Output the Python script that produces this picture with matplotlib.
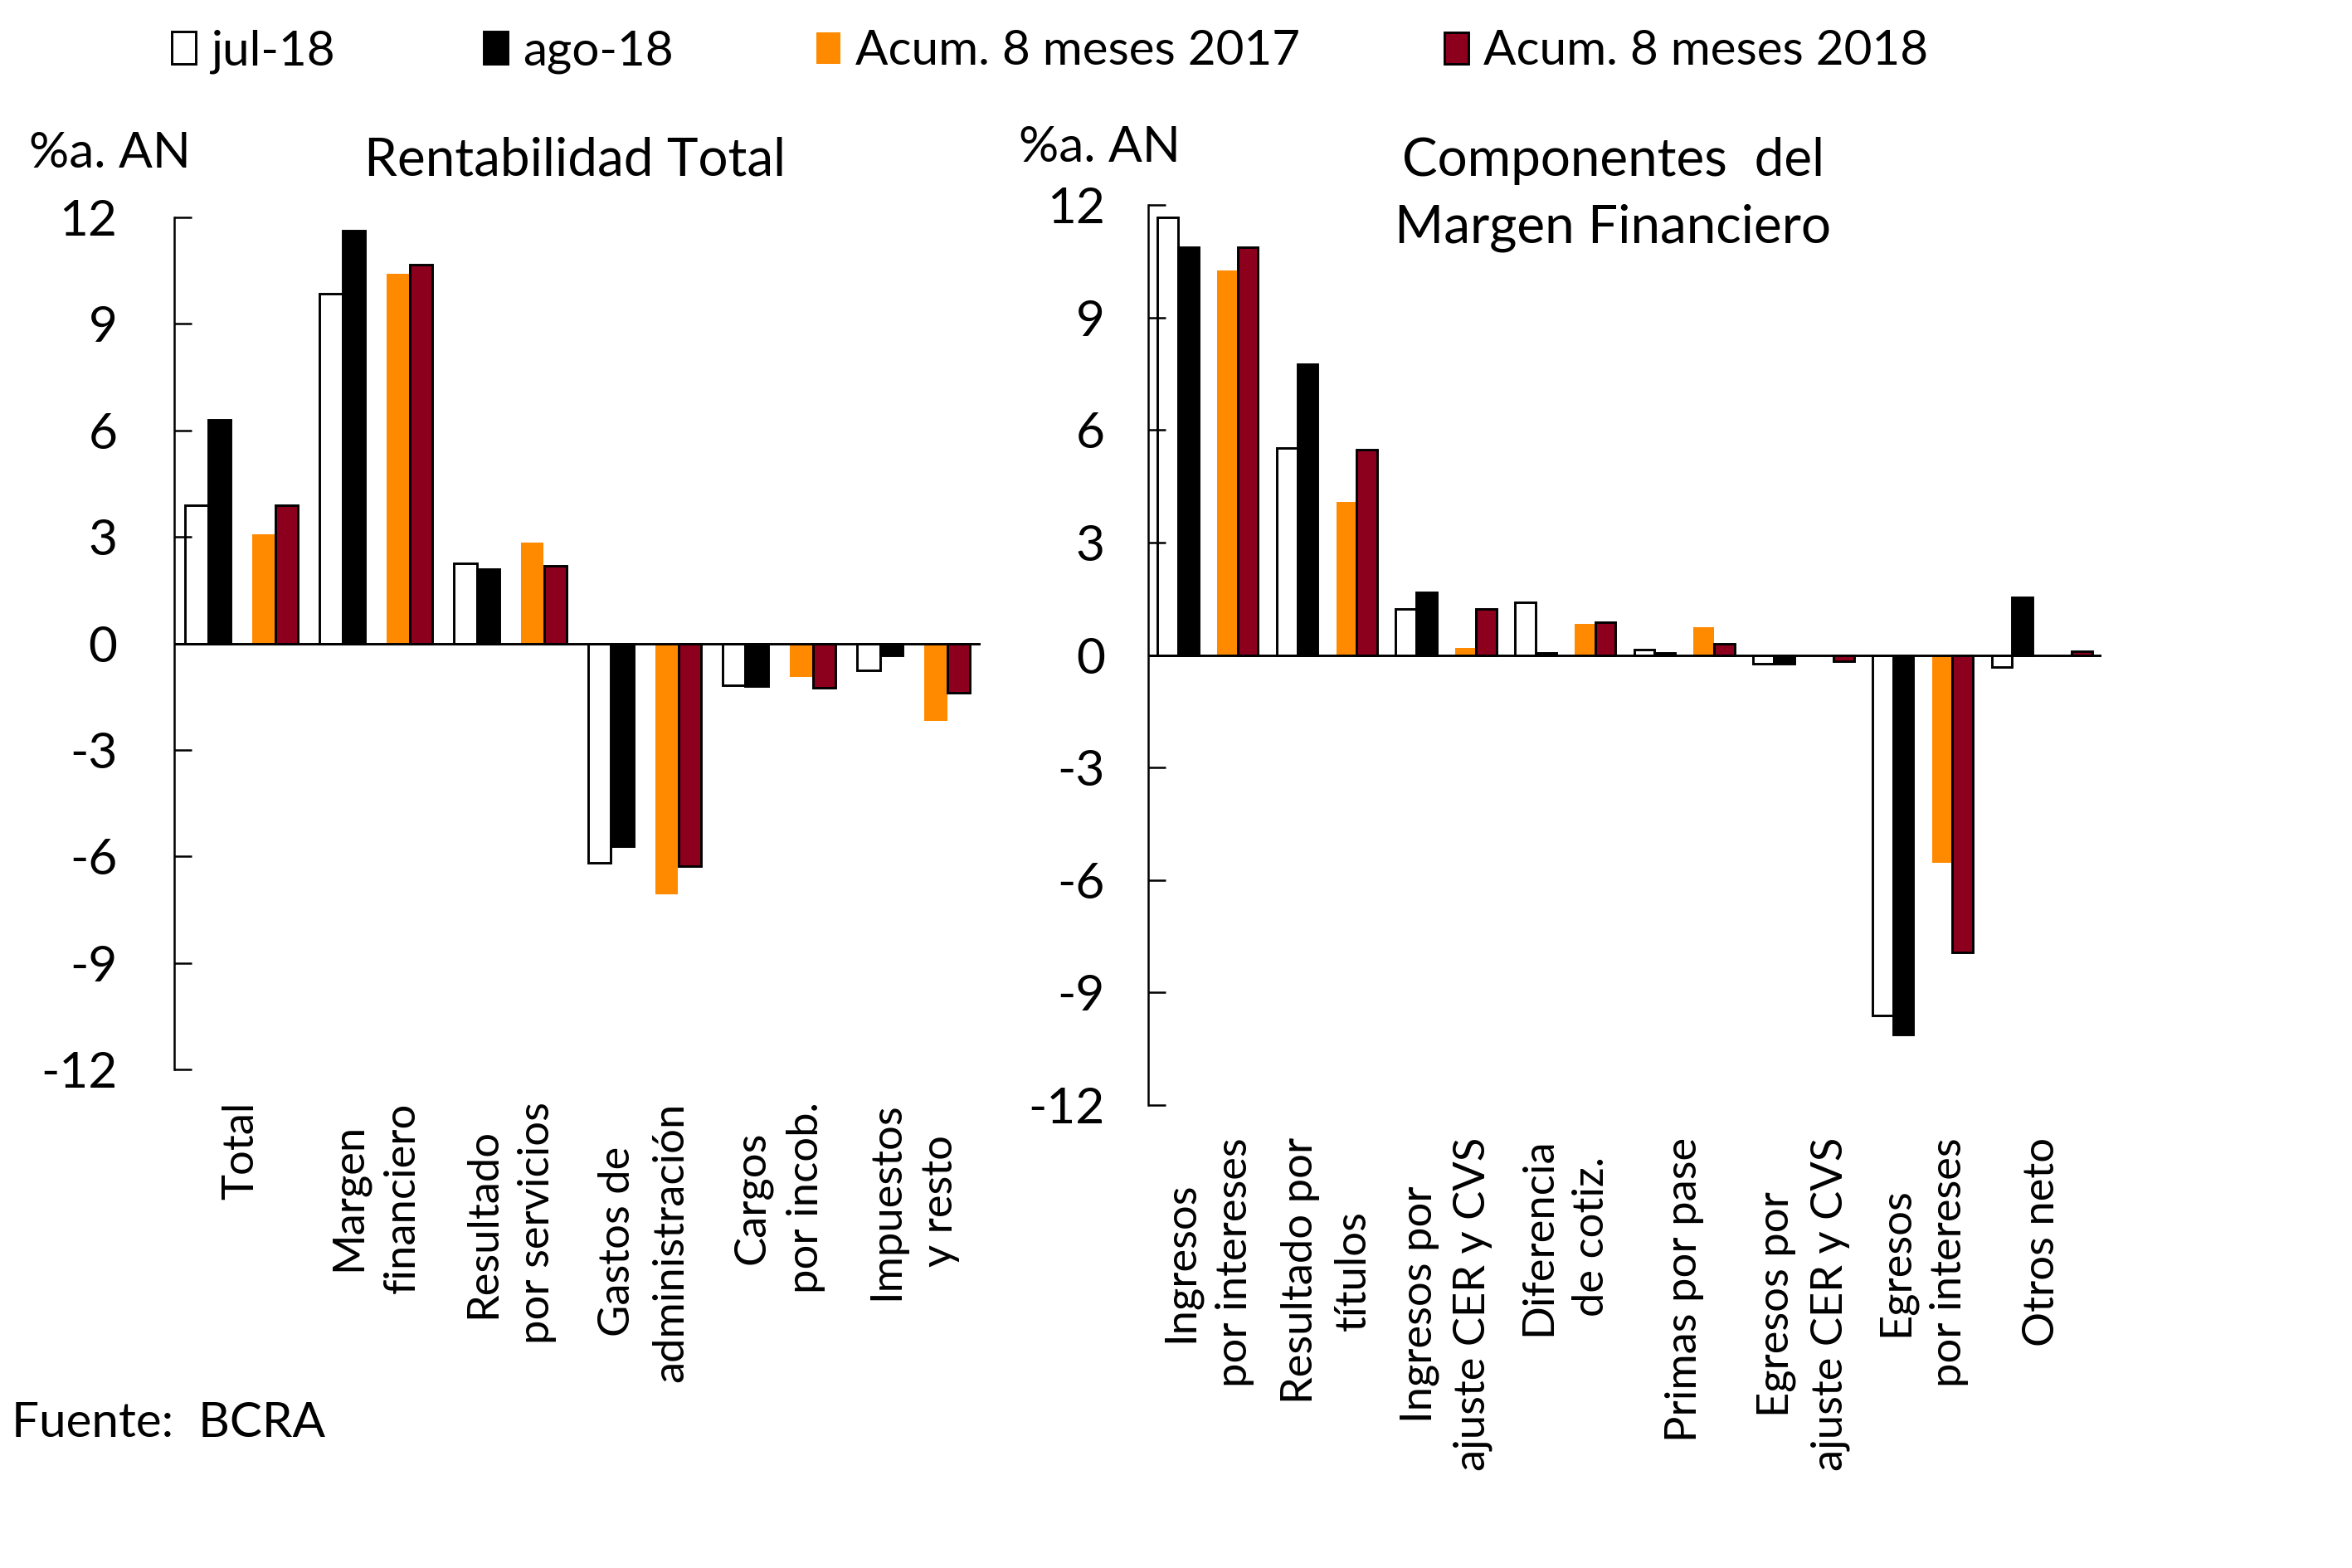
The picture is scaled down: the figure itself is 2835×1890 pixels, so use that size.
import numpy as np
import matplotlib
matplotlib.use("Agg")
import matplotlib.pyplot as plt

# series names
series = ["jul-18", "ago-18", "Acum. 8 meses 2017", "Acum. 8 meses 2018"]

# Rentabilidad Total (%a. AN)
left_cats = ["Total", "Margen\nfinanciero", "Resultado\npor servicios",
             "Gastos de\nadministración", "Cargos\npor incob.", "Impuestos\ny resto"]
left_jul = [3.9, 9.85, 2.25, -6.17, -1.19, -0.77]
left_ago = [6.3, 11.63, 2.1, -5.71, -1.2, -0.34]
left_acum17 = [3.07, 10.4, 2.85, -7.06, -0.95, -2.19]
left_acum18 = [3.9, 10.67, 2.19, -6.28, -1.26, -1.4]

# Componentes del Margen Financiero (%a. AN)
right_cats = ["Ingresos\npor intereses", "Resultado por\ntítulos",
              "Ingresos por\najuste CER y CVS", "Diferencia\nde cotiz.",
              "Primas por pase", "Egresos por\najuste CER y CVS",
              "Egresos\npor intereses", "Otros neto"]
right_jul = [11.67, 5.52, 1.22, 1.41, 0.15, -0.23, -9.61, -0.32]
right_ago = [10.88, 7.76, 1.67, 0.06, 0.06, -0.23, -10.13, 1.53]
right_acum17 = [10.26, 4.09, 0.19, 0.83, 0.73, -0.02, -5.54, -0.06]
right_acum18 = [10.88, 5.47, 1.22, 0.88, 0.29, -0.16, -7.92, 0.11]

yticks = [-12, -9, -6, -3, 0, 3, 6, 9, 12]

ORANGE = "#FF8A00"
MAROON = "#8C001E"
FS = 14.5
W, H = 2835, 1890

plt.rcParams["font.family"] = ["Lato", "DejaVu Sans"]
plt.rcParams["axes.unicode_minus"] = False


def draw_panel(ax, cats, jul, ago, acum17, acum18, ypad):
    x = np.arange(len(cats)) * 2
    w = 0.345
    bars = []
    bars.append(ax.bar(x - w / 2, jul, w, facecolor="white", edgecolor="black", linewidth=0.7))
    bars.append(ax.bar(x + w / 2, ago, w, facecolor="black", edgecolor="black", linewidth=0.7))
    bars.append(ax.bar(x + 1 - w / 2, acum17, w, facecolor=ORANGE, linewidth=0))
    bars.append(ax.bar(x + 1 + w / 2, acum18, w, facecolor=MAROON, edgecolor="black", linewidth=0.7))
    ax.axhline(0, color="black", linewidth=0.7, zorder=3)

    ax.set_xlim(-0.5, 2 * len(cats) - 0.5)
    ax.set_ylim(-12, 12)
    ax.set_yticks(yticks)
    ax.set_xticks(x + 0.5)
    ax.set_xticklabels(cats, rotation=90, ha="center", va="top",
                       multialignment="center", fontsize=12.6, linespacing=1.45)
    ax.tick_params(axis="x", length=0, pad=9.4)
    ax.tick_params(axis="y", direction="in", length=5, width=0.6,
                   labelsize=FS, pad=ypad)
    for s in ["top", "right", "bottom"]:
        ax.spines[s].set_visible(False)
    ax.spines["left"].set_linewidth(0.6)
    return bars


fig = plt.figure(figsize=(9.45, 6.3), dpi=300)

ax1 = fig.add_axes([210 / W, 1 - 1289 / H, (1182 - 210) / W, (1289 - 262) / H])
ax2 = fig.add_axes([1384 / W, 1 - 1332 / H, (2533 - 1384) / W, (1332 - 247) / H])

bars = draw_panel(ax1, left_cats, left_jul, left_ago, left_acum17, left_acum18, 16.5)
draw_panel(ax2, right_cats, right_jul, right_ago, right_acum17, right_acum18, 12.5)

# legend entries placed along the top
for b, name, px in zip(bars, series, [207, 583, 984, 1741]):
    fig.legend([b], [name], loc="center left", bbox_to_anchor=(px / W, 1 - 62 / H),
               frameon=False, borderpad=0, borderaxespad=0, handlelength=0.5,
               handleheight=0.65, handletextpad=0.3, fontsize=14)

# titles and unit labels
fig.text(693 / W, 1 - 212 / H, "Rentabilidad Total", ha="center", va="baseline", fontsize=15.3)
fig.text(1944 / W, 1 - 212 / H, "Componentes  del", ha="center", va="baseline", fontsize=15.3)
fig.text(1944 / W, 1 - 293 / H, "Margen Financiero", ha="center", va="baseline", fontsize=15.3)
fig.text(35 / W, 1 - 202 / H, "%a. AN", ha="left", va="baseline", fontsize=FS)
fig.text(1228 / W, 1 - 195 / H, "%a. AN", ha="left", va="baseline", fontsize=FS)
fig.text(14 / W, 1 - 1732 / H, "Fuente:  BCRA", ha="left", va="baseline", fontsize=14)

fig.savefig("out.png", dpi=300, facecolor="white")
